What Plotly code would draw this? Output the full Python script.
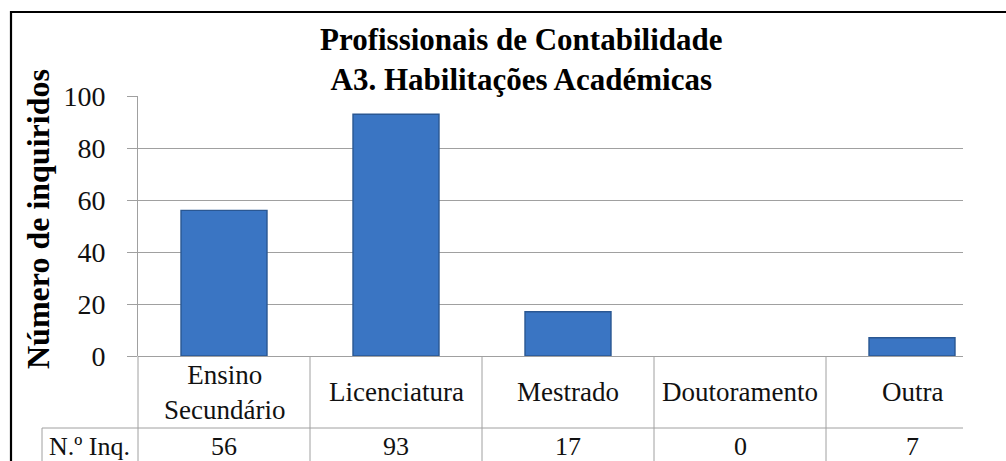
import plotly.graph_objects as go

categories = ["Ensino<br>Secundário", "Licenciatura", "Mestrado", "Doutoramento", "Outra"]
values = [56, 93, 17, 0, 7]
y_ticks = [0, 20, 40, 60, 80, 100]
row_label = "N.º Inq."
title_lines = ["Profissionais de Contabilidade", "A3. Habilitações Académicas"]
y_title = "Número de inquiridos"

W, H = 1006, 461
L, R, T, B = 138, 963, 96, 356  # plot area in pixels

def px(xp):
    return (xp - L) / (R - L)

def py(yp):
    return (B - yp) / (B - T)

FONT = "Liberation Serif, Times New Roman, Tinos, DejaVu Serif, serif"
GRID = "#A0A0A0"

xs = list(range(len(categories)))
fig = go.Figure()
fig.add_trace(go.Bar(
    x=xs, y=values, width=0.5,
    marker=dict(color="#3A75C3",
                line=dict(color="#2A5792", width=[1.4 if v > 0 else 0 for v in values])),
    hoverinfo="skip", showlegend=False,
))

fig.update_layout(
    width=W, height=H,
    margin=dict(l=L, r=W - R, t=T, b=H - B, pad=0),
    paper_bgcolor="white", plot_bgcolor="white",
    font=dict(family=FONT, color="black"),
    xaxis=dict(range=[-0.5, -0.5 + (R - L) / 172], showticklabels=False,
               showgrid=False, zeroline=False, showline=False, ticks=""),
    yaxis=dict(range=[0, 100], tickvals=y_ticks, showgrid=True, gridcolor=GRID,
               gridwidth=1, zeroline=True, zerolinecolor=GRID, zerolinewidth=1,
               showline=True, linecolor=GRID, linewidth=1,
               ticks="outside", ticklen=10, tickcolor=GRID,
               tickfont=dict(family=FONT, size=28, color="#111111"),
               ticklabelstandoff=16),
)

shapes = []
line = dict(color=GRID, width=1)
shapes.append(dict(type="line", xref="paper", yref="paper", x0=0, x1=0, y0=0, y1=py(470), line=line, layer="above"))
shapes.append(dict(type="line", xref="paper", yref="paper", x0=px(42), x1=1, y0=py(428), y1=py(428), line=line))
shapes.append(dict(type="line", xref="paper", yref="paper", x0=px(42), x1=px(42), y0=py(428), y1=py(470), line=line))
for i in range(len(categories) - 1):
    shapes.append(dict(type="line", xref="x", yref="paper", x0=i + 0.5, x1=i + 0.5,
                       y0=0, y1=py(470), line=line))
shapes.append(dict(type="rect", xref="paper", yref="paper", x0=px(11), x1=px(1030),
                   y0=py(12), y1=py(490), line=dict(color="black", width=2.2)))
fig.update_layout(shapes=shapes)

ann = []
for i, (c, v) in enumerate(zip(categories, values)):
    ann.append(dict(x=i, y=py(392), xref="x", yref="paper", text=c, showarrow=False,
                    font=dict(family=FONT, size=27, color="#111111"), xanchor="center", yanchor="middle"))
    ann.append(dict(x=i, y=py(446), xref="x", yref="paper", text=str(v), showarrow=False,
                    font=dict(family=FONT, size=26, color="#111111"), xanchor="center", yanchor="middle"))
ann.append(dict(x=px(89), y=py(446), xref="paper", yref="paper", text=row_label, showarrow=False,
                font=dict(family=FONT, size=26, color="#111111"), xanchor="center", yanchor="middle"))
ann.append(dict(x=px(521), y=py(59), xref="paper", yref="paper",
                text="<b>" + "<br>".join(title_lines) + "</b>", showarrow=False,
                font=dict(family=FONT, size=31, color="black"), xanchor="center", yanchor="middle"))
ann.append(dict(x=px(38), y=py(219), xref="paper", yref="paper", text="<b>" + y_title + "</b>",
                textangle=-90, showarrow=False, font=dict(family=FONT, size=32, color="black"),
                xanchor="center", yanchor="middle"))
fig.update_layout(annotations=ann)

fig.write_html("out.html", config={"displayModeBar": False},
               post_script="document.body.style.margin='0';document.body.style.padding='0';")
